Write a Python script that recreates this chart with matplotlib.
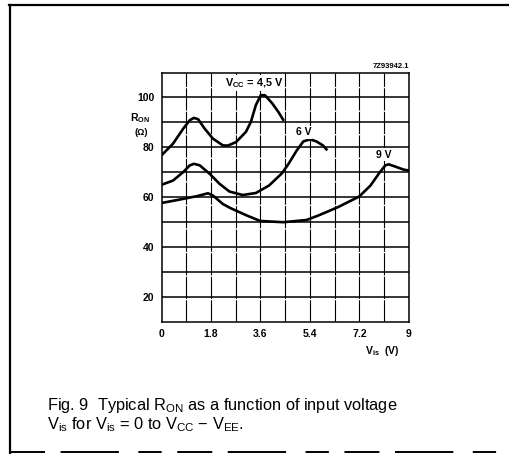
import matplotlib
matplotlib.use('Agg')
import matplotlib.pyplot as plt
from matplotlib.lines import Line2D

plt.rcParams['font.family'] = ['Liberation Sans', 'DejaVu Sans']
plt.rcParams['mathtext.fontset'] = 'custom'
plt.rcParams['mathtext.rm'] = 'Liberation Sans'
plt.rcParams['mathtext.it'] = 'Liberation Sans'
plt.rcParams['mathtext.bf'] = 'Liberation Sans:bold'

# values (Vis in V, Ron in ohm)
x_45 = [0.0, 0.42, 0.79, 1.03, 1.18, 1.33, 1.57, 1.87, 2.23, 2.41, 2.71, 3.07,
        3.25, 3.43, 3.61, 3.76, 4.03, 4.25, 4.45]
r_45 = [76.8, 81.5, 87.5, 90.9, 91.8, 91.3, 87.5, 83.5, 80.8, 80.7, 82.1, 86.2,
        90.2, 96.9, 100.9, 100.9, 97.6, 94.2, 90.6]

x_6 = [0.0, 0.42, 0.79, 1.03, 1.18, 1.39, 1.75, 2.11, 2.47, 2.95, 3.43, 3.91,
       4.38, 4.62, 4.92, 5.16, 5.40, 5.63, 5.87, 6.03]
r_6 = [65.0, 66.7, 70.1, 72.8, 73.4, 72.8, 69.4, 65.4, 62.3, 60.9, 61.7, 64.7,
       69.6, 73.4, 78.8, 82.4, 83.2, 82.4, 80.8, 78.8]

x_9 = [0.0, 0.67, 1.27, 1.69, 1.87, 2.23, 2.5, 3.1, 3.59, 4.43, 5.28, 5.75,
       6.41, 7.19, 7.60, 7.90, 8.14, 8.26, 8.50, 8.80, 9.0]
r_9 = [57.7, 59.1, 60.4, 61.6, 60.7, 57.3, 55.7, 52.7, 50.5, 50.0, 50.9, 52.9,
       56.0, 60.3, 64.7, 69.4, 72.8, 73.2, 72.3, 71.1, 70.7]

x_ticks = [0, 1.8, 3.6, 5.4, 7.2, 9]
x_ticklabels = ['0', '1.8', '3.6', '5.4', '7.2', '9']
y_ticks = [20, 40, 60, 80, 100]

fig = plt.figure(figsize=(5.09, 4.54), dpi=100)
ax = fig.add_axes([0.3173, 0.2907, 0.4862, 0.5496])
ax.set_xlim(0, 9)
ax.set_ylim(10, 110)

# grid
for k in range(1, 10):
    ax.axvline(0.9 * k, color='black', lw=0.8, ls=(0, (20, 1.2)), zorder=1)
for k in range(2, 11):
    ax.axhline(10 * k, color='black', lw=1.1, zorder=1)

for xs, ys in [(x_45, r_45), (x_6, r_6), (x_9, r_9)]:
    ax.plot(xs, ys, color='black', lw=1.9, solid_joinstyle='round',
            solid_capstyle='butt', zorder=3)

for s in ax.spines.values():
    s.set_linewidth(1.1)

ax.set_xticks(x_ticks)
ax.set_xticklabels(x_ticklabels)
ax.set_yticks(y_ticks)
ax.tick_params(length=0, labelsize=7.5, pad=5)
for t in ax.get_xticklabels() + ax.get_yticklabels():
    t.set_fontweight('bold')

bb = dict(facecolor='white', edgecolor='none', pad=1)
ax.text(4.42, 105.8, r'V$_{\mathbf{CC}}$ = 4,5 V', ha='right', va='center',
        fontsize=7.8, fontweight='bold', bbox=bb, zorder=4)
ax.text(5.16, 86.0, '6 V', ha='center', va='center', fontsize=7.5,
        fontweight='bold', bbox=bb, zorder=4)
ax.text(8.1, 77.1, '9 V', ha='center', va='center', fontsize=7.5,
        fontweight='bold', bbox=bb, zorder=4)
ax.text(9.0, 112.6, '7Z93942.1', ha='right', va='center', fontsize=5.5,
        fontweight='bold')

ax.text(-0.8, 91.6, r'R$_{\mathbf{ON}}$', ha='center', va='center',
        fontsize=7.5, fontweight='bold')
ax.text(-0.72, 86.0, '(Ω)', ha='center', va='center', fontsize=6.5,
        fontweight='bold')
ax.text(8.03, -1.6, r'V$_{\mathbf{is}}$  (V)', ha='center', va='center',
        fontsize=7.5, fontweight='bold')

# caption
fig.text(0.092, 0.106, r'Fig. 9  Typical R$_{\mathrm{ON}}$ as a function of input voltage',
         ha='left', va='center', fontsize=11.8)
fig.text(0.092, 0.064, r'V$_{\mathrm{is}}$ for V$_{\mathrm{is}}$ = 0 to V$_{\mathrm{CC}}$ $-$ V$_{\mathrm{EE}}$.',
         ha='left', va='center', fontsize=11.8)

# scanned page frame
fig.add_artist(Line2D([0.018, 1.0], [0.989, 0.989], color='black', lw=1.6,
                      transform=fig.transFigure))
fig.add_artist(Line2D([0.02, 0.02], [0.0, 0.989], color='black', lw=1.6,
                      transform=fig.transFigure))
fig.add_artist(Line2D([0.02, 1.0], [0.004, 0.004], color='black', lw=1.4,
                      ls=(0, (18, 8, 30, 10, 12, 8)), transform=fig.transFigure))

fig.savefig('out.png', dpi=100)
